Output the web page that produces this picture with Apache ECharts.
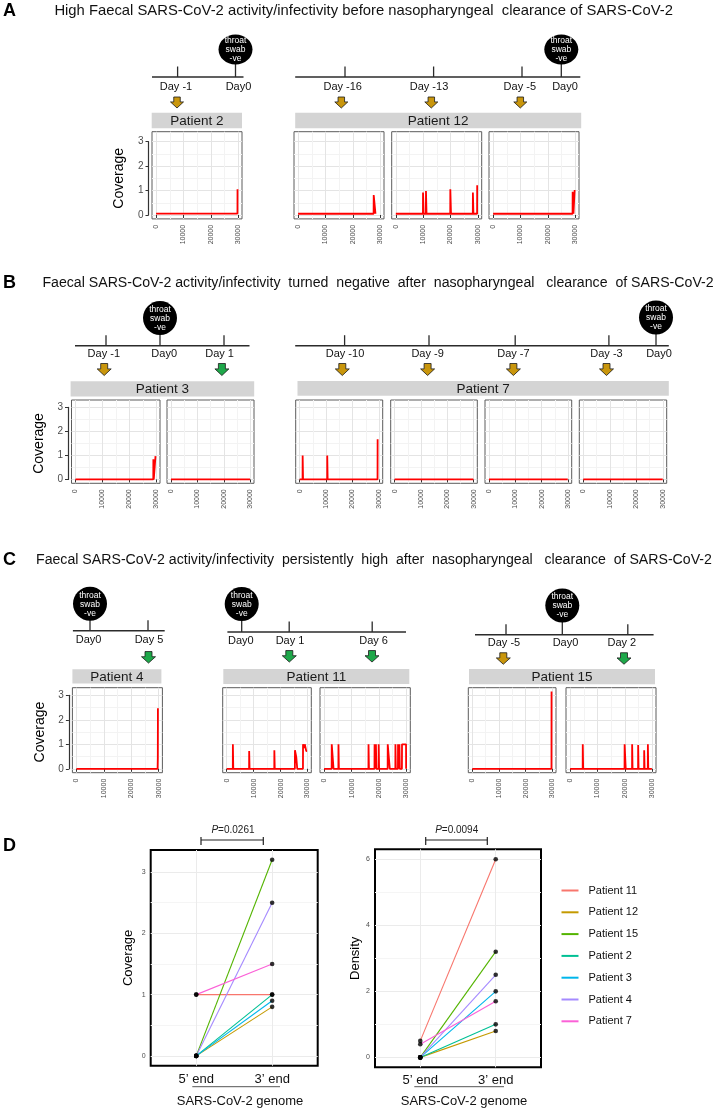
<!DOCTYPE html>
<html><head><meta charset="utf-8">
<script src="https://cdn.jsdelivr.net/npm/echarts@6/dist/echarts.min.js"></script>
<style>html,body{margin:0;padding:0;background:#fff}#c{width:721px;height:1110px}</style>
</head><body><div id="c"></div>
<script>
// ================= DATA =================
// Coverage profiles along the SARS-CoV-2 genome: [genome position (nt), coverage]
const patient2_dayM1  = [[0,0.06],[29740,0.06],[29760,1.05],[29880,1.05]];
const patient12_dayM16 = [[0,0.05],[27600,0.05],[27640,0.82],[28250,0.82],[28290,0.05]];
const patient12_dayM13 = [[0,0.05],[9920,0.05],[9950,0.92],[10150,0.92],[10180,0.05],[11000,0.05],[11030,0.98],[11200,0.98],[11230,0.05],[19900,0.05],[19930,1.05],[20150,1.05],[20180,0.05],[28150,0.05],[28180,0.92],[28350,0.92],[28380,0.05],[29720,0.05],[29750,1.22],[29880,1.22]];
const patient12_dayM5  = [[0,0.05],[29050,0.05],[29080,0.95],[29350,0.95],[29380,0.05],[29780,0.05],[29810,1.02],[29880,1.02]];
const patient3_dayM1  = [[0,0],[28900,0],[28930,0.84],[29050,0.84],[29080,0],[29700,0],[29730,0.97],[29880,0.97]];
const patient3_day1   = [[0,0],[29903,0]];
const patient7_dayM10 = [[0,0],[1100,0],[1130,1.0],[1250,1.0],[1280,0],[10400,0],[10430,1.0],[10550,1.0],[10580,0],[29450,0],[29480,1.67],[29600,1.67]];
const patient7_dayM9  = [[0,0],[29903,0]];
const patient7_dayM7  = [[0,0],[29903,0]];
const patient7_dayM3  = [[0,0],[29903,0]];
const patient4_day5   = [[0,0],[29650,0],[29720,0.45],[29760,2.47],[29860,2.47]];
const patient11_day1  = [[0,0],[2250,0],[2280,1.0],[2400,1.0],[2430,0],[8300,0],[8330,0.73],[8450,0.73],[8480,0],[17650,0],[17680,0.76],[17800,0.76],[17830,0],[25300,0],[25330,0.76],[25800,0.76],[25830,0.47],[26150,0.47],[26180,0],[28300,0],[28330,1.0],[28800,1.0],[28830,0.85],[28950,0.85],[28980,1.0],[29500,1.0],[29530,0.72],[29850,0.72]];
const patient11_day6  = [[0,0],[2750,0],[2780,1],[3400,1],[3430,0],[5200,0],[5230,1],[5350,1],[5380,0],[16150,0],[16180,1],[16300,1],[16330,0],[18350,0],[18380,1],[18500,1],[18530,0],[18850,0],[18880,1],[19000,1],[19030,0],[19850,0],[19880,1],[20000,1],[20030,0],[23150,0],[23180,1],[23900,1],[23930,0],[25950,0],[25980,1],[26100,1],[26130,0],[26900,0],[26930,1],[27050,1],[27080,0],[27400,0],[27430,1],[27550,1],[27580,0],[28350,0],[28380,1],[29850,1],[29880,0]];
const patient15_dayM5 = [[0,0],[29700,0],[29730,3.15],[29850,3.15]];
const patient15_day2  = [[0,0],[4600,0],[4630,1.0],[4750,1.0],[4780,0],[19900,0],[19930,1.0],[20300,1.0],[20330,0],[22650,0],[22680,1.0],[22800,1.0],[22830,0],[24850,0],[24880,0.97],[25000,0.97],[25030,0],[27050,0],[27080,0.76],[27200,0.76],[27230,0],[28400,0],[28430,1.0],[28550,1.0],[28580,0],[29903,0]];

const genomeTicks = [0, 10000, 20000, 30000];
const genomeMinorTicks = [5000, 15000, 25000];
const coverageTicks = [0, 1, 2, 3];
const coverageMinorTicks = [0.5, 1.5, 2.5];

// Sampling days relative to the negative throat swab (Day0)
const daysPatient2  = [-1, 0];
const daysPatient12 = [-16, -13, -5, 0];
const daysPatient3  = [-1, 0, 1];
const daysPatient7  = [-10, -9, -7, -3, 0];
const daysPatient4  = [0, 5];
const daysPatient11 = [0, 1, 6];
const daysPatient15 = [-5, 0, 2];
const swabLabel = ['throat', 'swab', '-ve'];
const stripPatients = ['Patient 2','Patient 12','Patient 3','Patient 7','Patient 4','Patient 11','Patient 15'];

const panelLetters = ['A','B','C','D'];
const titleA = 'High Faecal SARS-CoV-2 activity/infectivity before nasopharyngeal  clearance of SARS-CoV-2';
const titleB = 'Faecal SARS-CoV-2 activity/infectivity  turned  negative  after  nasopharyngeal   clearance  of SARS-CoV-2';
const titleC = 'Faecal SARS-CoV-2 activity/infectivity  persistently  high  after  nasopharyngeal   clearance  of SARS-CoV-2';

// Panel D summary
const summaryPatients = ['Patient 11','Patient 12','Patient 15','Patient 2','Patient 3','Patient 4','Patient 7'];
const genomeEnds = ['5\u2019 end', '3\u2019 end'];
const coverage5 = [1, 0, 0, 0, 0, 0, 1];
const coverage3 = [1, 0.8, 3.2, 1.0, 0.9, 2.5, 1.5];
const density5  = [0.5, 0, 0, 0, 0, 0, 0.4];
const density3  = [6, 0.8, 3.2, 1.0, 2.0, 2.5, 1.7];
const summaryCoverageTicks = [0, 1, 2, 3];
const summaryCoverageMinor = [0.5, 1.5, 2.5];
const densityTicks = [0, 2, 4, 6];
const densityMinor = [1, 3, 5];
const pValues = ['0.0261', '0.0094'];
const genomeAxisTitle = 'SARS-CoV-2 genome';
const yTitles = ['Coverage', 'Density'];

// ================= STYLE / LAYOUT =================
const FONT = '"Liberation Sans", Arial, Helvetica, sans-serif';
const RED = '#FF0000', GOLD = '#C9960C', GREEN = '#1EA84A';
const hue7 = ['#F8766D','#C49A00','#53B400','#00C094','#00B6EB','#A58AFF','#FB61D7'];
const GX = [-1500, 31400];

const rows = {
  A: {yMin:-0.16, yMax:3.41, top:131.7, height:87.2},
  B: {yMin:-0.16, yMax:3.31, top:400, height:83.3},
  C: {yMin:-0.16, yMax:3.31, top:687.7, height:85}
};
const panels = [
  {row:'A', data:patient2_dayM1, left:152, width:90, axis:true},
  {row:'A', data:patient12_dayM16, left:294, width:90},
  {row:'A', data:patient12_dayM13, left:391.7, width:90},
  {row:'A', data:patient12_dayM5, left:489, width:90},
  {row:'B', data:patient3_dayM1, left:71.5, width:88.5, axis:true},
  {row:'B', data:patient3_day1, left:167, width:87},
  {row:'B', data:patient7_dayM10, left:295.7, width:87},
  {row:'B', data:patient7_dayM9, left:390.7, width:86.6},
  {row:'B', data:patient7_dayM7, left:485, width:86.7},
  {row:'B', data:patient7_dayM3, left:579.3, width:87.4},
  {row:'C', data:patient4_day5, left:72.4, width:90, axis:true},
  {row:'C', data:patient11_day1, left:222.7, width:88.6},
  {row:'C', data:patient11_day6, left:320, width:90.3},
  {row:'C', data:patient15_dayM5, left:468.3, width:87.7},
  {row:'C', data:patient15_day2, left:566, width:90}
];

const grids = [], xAxes = [], yAxes = [], series = [];
const GRIDC = '#E4E4E4', MINORC = '#F3F3F3';

function addPanel(p) {
  const r = rows[p.row];
  const gi = grids.length;
  grids.push({left:p.left, top:r.top, width:p.width, height:r.height, show:true, borderColor:'#5c5c5c', borderWidth:1, backgroundColor:'#fff'});
  const xi = xAxes.length;
  xAxes.push({gridIndex:gi, type:'value', min:GX[0], max:GX[1], position:'bottom',
    axisLine:{show:false},
    axisTick:{show:true, length:3, lineStyle:{color:'#333', width:1}, customValues:genomeTicks},
    axisLabel:{show:true, rotate:90, fontSize:7, color:'#4D4D4D', fontFamily:FONT, margin:6, customValues:genomeTicks,
      formatter:v => String(v)},
    splitLine:{show:true, lineStyle:{color:GRIDC, width:1}}});
  xAxes.push({gridIndex:gi, type:'value', min:GX[0], max:GX[1], position:'top',
    axisLine:{show:false}, axisTick:{show:false, customValues:genomeMinorTicks},
    axisLabel:{show:false, customValues:genomeMinorTicks},
    splitLine:{show:true, lineStyle:{color:MINORC, width:1}}});
  const yi = yAxes.length;
  yAxes.push({gridIndex:gi, type:'value', min:r.yMin, max:r.yMax, position:'left',
    axisLine:{show:false}, axisTick:{show:false, customValues:coverageTicks},
    axisLabel:{show:false, customValues:coverageTicks},
    splitLine:{show:true, lineStyle:{color:GRIDC, width:1}}});
  yAxes.push({gridIndex:gi, type:'value', min:r.yMin, max:r.yMax, position:'right',
    axisLine:{show:false}, axisTick:{show:false, customValues:coverageMinorTicks},
    axisLabel:{show:false, customValues:coverageMinorTicks},
    splitLine:{show:true, lineStyle:{color:MINORC, width:1}}});
  series.push({type:'line', xAxisIndex:xi, yAxisIndex:yi, data:p.data, symbol:'none', silent:true,
    lineStyle:{color:RED, width:1.8}, z:5});
  if (p.axis) {
    // stand-alone axis spanning 0..3 like the original
    const span = r.yMax - r.yMin;
    const y3 = r.top + (r.yMax - 3) / span * r.height;
    const y0 = r.top + (r.yMax - 0) / span * r.height;
    const ag = grids.length;
    grids.push({left:p.left - 3.5, top:y3, width:1, height:y0 - y3, show:false});
    xAxes.push({gridIndex:ag, type:'value', show:false, min:0, max:1});
    yAxes.push({gridIndex:ag, type:'value', min:0, max:3, interval:1, position:'left',
      axisLine:{show:true, lineStyle:{color:'#333', width:1.2}},
      axisTick:{show:true, length:3, lineStyle:{color:'#333', width:1}},
      axisLabel:{fontSize:10, color:'#4D4D4D', fontFamily:FONT, margin:5},
      splitLine:{show:false},
      name:yTitles[0], nameLocation:'middle', nameGap:22,
      nameTextStyle:{fontSize:14, color:'#000', fontFamily:FONT}});
  }
}
panels.forEach(addPanel);

// ---- Panel D
const dPanels = [
  {left:150.7, top:850, width:167, height:215.7, yMin:-0.16, yMax:3.36, ticks:summaryCoverageTicks, minor:summaryCoverageMinor, v5:coverage5, v3:coverage3, title:yTitles[0], nameGap:16},
  {left:375, top:849.3, width:166, height:218, yMin:-0.3, yMax:6.3, ticks:densityTicks, minor:densityMinor, v5:density5, v3:density3, title:yTitles[1], nameGap:12}
];
const endPos = genomeEnds.map((_, k) => k + 1);
dPanels.forEach(d => {
  const gi = grids.length;
  grids.push({left:d.left, top:d.top, width:d.width, height:d.height, show:true, borderColor:'#000', borderWidth:2, backgroundColor:'#fff'});
  const xi = xAxes.length;
  xAxes.push({gridIndex:gi, type:'value', min:0.4, max:2.6, position:'bottom',
    axisLine:{show:false}, axisTick:{show:false, customValues:endPos},
    axisLabel:{show:true, customValues:endPos, formatter:v => genomeEnds[Math.round(v) - 1], fontSize:13, color:'#111', fontFamily:FONT, margin:7},
    splitLine:{show:true, lineStyle:{color:'#EBEBEB', width:1}}});
  const yi = yAxes.length;
  yAxes.push({gridIndex:gi, type:'value', min:d.yMin, max:d.yMax, position:'left',
    axisLine:{show:false}, axisTick:{show:false, customValues:d.ticks},
    axisLabel:{show:true, customValues:d.ticks, fontSize:7, color:'#4D4D4D', fontFamily:FONT, margin:5},
    splitLine:{show:true, lineStyle:{color:'#EBEBEB', width:1}},
    name:d.title, nameLocation:'middle', nameGap:d.nameGap,
    nameTextStyle:{fontSize:13, color:'#000', fontFamily:FONT}});
  yAxes.push({gridIndex:gi, type:'value', min:d.yMin, max:d.yMax, position:'right',
    axisLine:{show:false}, axisTick:{show:false, customValues:d.minor},
    axisLabel:{show:false, customValues:d.minor},
    splitLine:{show:true, lineStyle:{color:'#F5F5F5', width:1}}});
  const pts = [];
  summaryPatients.forEach((name, i) => {
    const data = [[endPos[0], d.v5[i]], [endPos[1], d.v3[i]]];
    series.push({type:'line', name:name, xAxisIndex:xi, yAxisIndex:yi, data:data, symbol:'none',
      lineStyle:{color:hue7[i], width:1.1}, itemStyle:{color:hue7[i]}, z:4, silent:true});
    pts.push(...data);
  });
  series.push({type:'scatter', name:'points', xAxisIndex:xi, yAxisIndex:yi, data:pts, symbolSize:4.6,
    itemStyle:{color:'#000'}, z:6, silent:true});
});

// ================= GRAPHICS (annotations) =================
const G = [];
function txt(s, x, y, size, color, opts) {
  opts = opts || {};
  G.push({type:'text', x:x, y:y, rotation:opts.rot || 0, z:opts.z || 50, silent:true,
    style:{text:s, font:(opts.bold ? 'bold ' : '') + size + 'px ' + FONT, fill:color,
      textAlign:opts.align || 'center', textVerticalAlign:'middle', align:opts.align || 'center', verticalAlign:'middle'}});
}
function seg(x1, y1, x2, y2, color, w) {
  G.push({type:'line', z:50, silent:true, shape:{x1:x1, y1:y1, x2:x2, y2:y2}, style:{stroke:color, lineWidth:w}});
}
function arrow(cx, cy, w, h, color) {
  const sw = w * 0.25, hw = w / 2, top = cy - h / 2, mid = cy - h * 0.05, tip = cy + h / 2;
  G.push({type:'polygon', z:50, silent:true,
    shape:{points:[[cx - sw, top],[cx + sw, top],[cx + sw, mid],[cx + hw, mid],[cx, tip],[cx - hw, mid],[cx - sw, mid]]},
    style:{fill:color, stroke:'#1a1a1a', lineWidth:0.8}});
}
function timeline(days, L) {
  seg(L.x1, L.lineY, L.x2, L.lineY, '#2b2b2b', 1.5);
  days.forEach((d, i) => {
    const t = L.ticks[i];
    if (d === 0) {
      seg(t[0], L.cy + L.ry - 1, t[0], L.lineY, '#2b2b2b', 1.3);
      G.push({type:'ellipse', z:51, silent:true, shape:{cx:t[0], cy:L.cy, rx:17, ry:L.ry}, style:{fill:'#000'}});
      swabLabel.forEach((s, k) => txt(s, t[0], L.cy + 0.5 + (k - 1) * 9, 8.5, '#fff', {z:52}));
    } else {
      seg(t[0], L.lineY - 10.5, t[0], L.lineY, '#2b2b2b', 1.3);
      arrow(t[2], L.arrowY, L.aw, L.ah, d < 0 ? GOLD : GREEN);
    }
    txt(d === 0 ? 'Day0' : 'Day ' + d, t[1], L.labelY, 11, '#111');
  });
}
timeline(daysPatient2,  {x1:152, x2:243.5, lineY:77, ticks:[[177.6,176,177],[235.5,238.5,null]], cy:49.5, ry:15, labelY:86.5, arrowY:102.5, aw:13, ah:11});
timeline(daysPatient12, {x1:295.2, x2:580.3, lineY:77, ticks:[[345,342.7,341.3],[433.6,429,431.3],[522,519.8,520.3],[561.3,565,null]], cy:49.5, ry:15, labelY:86.5, arrowY:102.5, aw:13, ah:11});
timeline(daysPatient3,  {x1:75, x2:249.5, lineY:345.7, ticks:[[106,103.8,104.2],[160,164.2,null],[224,219.6,221.9]], cy:318, ry:17, labelY:354.3, arrowY:369.5, aw:14, ah:12});
timeline(daysPatient7,  {x1:295.2, x2:668.8, lineY:345.7, ticks:[[344.6,345,342.3],[429,427.6,427.6],[515.2,513.4,513.4],[608.9,606.5,606.5],[656,659,null]], cy:317.5, ry:17, labelY:354.3, arrowY:369.5, aw:14, ah:12});
timeline(daysPatient4,  {x1:72.9, x2:164.7, lineY:630.7, ticks:[[90,88.6,null],[148,149,148.5]], cy:603.7, ry:17, labelY:640, arrowY:657.3, aw:14, ah:11.5});
timeline(daysPatient11, {x1:227.4, x2:406, lineY:632, ticks:[[241.7,240.8,null],[289.2,290,289.3],[372.2,373.6,372]], cy:604, ry:17, labelY:641, arrowY:656.3, aw:14, ah:11.5});
timeline(daysPatient15, {x1:475, x2:653.6, lineY:634.7, ticks:[[506,504,503.3],[562.3,565.5,null],[627.8,621.8,624]], cy:605.5, ry:17, labelY:643.3, arrowY:658.5, aw:14, ah:11.5});

// strips
const stripBoxes = [[151.7,112.7,90.3,15.6],[295.2,112.7,286,15.6],[70.6,381.3,183.6,15.2],[297.5,381,371.3,14.8],[72.4,669.3,89,14.3],[223.3,669,186,15],[469,669,186,15.3]];
stripPatients.forEach((s, i) => {
  const b = stripBoxes[i];
  G.push({type:'rect', z:40, silent:true, shape:{x:b[0], y:b[1], width:b[2], height:b[3]}, style:{fill:'#D4D4D4'}});
  txt(s, b[0] + b[2] / 2, b[1] + b[3] / 2 + 0.5, 13.5, '#1a1a1a');
});

// titles & panel letters
const letterY = [11, 283, 560, 846];
panelLetters.forEach((l, i) => txt(l, 3, letterY[i], 18, '#000', {bold:true, align:'left'}));
txt(titleA, 54.4, 11, 14.8, '#111', {align:'left'});
txt(titleB, 42.4, 283.3, 14.15, '#111', {align:'left'});
txt(titleC, 36, 560, 14.15, '#111', {align:'left'});

// panel D extras
const dExtras = [{bx1:201, bx2:263.3, px:233, ux1:192.3, ux2:280, gx:240}, {bx1:425.7, bx2:487.3, px:456.7, ux1:414.3, ux2:504, gx:464}];
dExtras.forEach((e, i) => {
  seg(e.bx1, 840, e.bx2, 840, '#222', 1.2);
  seg(e.bx1, 837, e.bx1, 845, '#222', 1.2);
  seg(e.bx2, 837, e.bx2, 845, '#222', 1.2);
  G.push({type:'text', x:e.px, y:830, z:50, silent:true,
    style:{text:'{i|P}=' + pValues[i], font:'10px ' + FONT, fontSize:10, fontFamily:FONT, fill:'#222',
      rich:{i:{fontStyle:'italic', fontSize:10, fontFamily:FONT, fill:'#222'}},
      textAlign:'center', textVerticalAlign:'middle', align:'center', verticalAlign:'middle'}});
  seg(e.ux1, 1086.7, e.ux2, 1086.7, '#555', 1);
  txt(genomeAxisTitle, e.gx, 1101, 13, '#111');
});

const chart = echarts.init(document.getElementById('c'), null, {renderer:'canvas'});
chart.setOption({
  animation:false,
  backgroundColor:'#fff',
  textStyle:{fontFamily:FONT},
  grid:grids, xAxis:xAxes, yAxis:yAxes, series:series,
  legend:{orient:'vertical', left:556.5, top:880, itemWidth:17, itemHeight:2, itemGap:10.8, icon:'rect',
    selectedMode:false,
    textStyle:{fontSize:11, color:'#111', fontFamily:FONT, padding:[0,0,0,5]},
    data:summaryPatients.map((n, i) => ({name:n, icon:'rect', itemStyle:{color:hue7[i]}}))},
  graphic:{elements:G}
});
</script></body></html>
